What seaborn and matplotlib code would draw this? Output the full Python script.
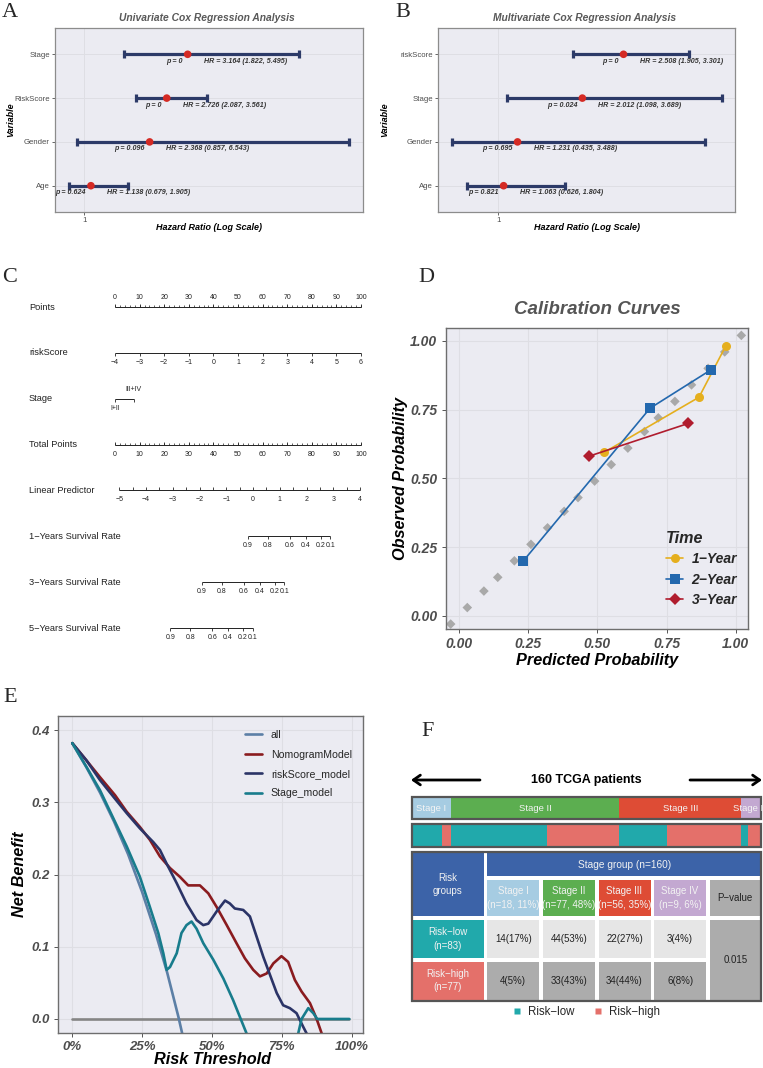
import numpy as np
import pandas as pd
import matplotlib
matplotlib.use("Agg")
import matplotlib.pyplot as plt
import seaborn as sns
from matplotlib.patches import Rectangle
from matplotlib.lines import Line2D

# ---------------- data ----------------
# A: univariate Cox
uni_vars = ["Stage", "RiskScore", "Gender", "Age"]
uni_hr = [3.164, 2.726, 2.368, 1.138]
uni_lo = [1.822, 2.087, 0.857, 0.679]
uni_hi = [5.495, 3.561, 6.543, 1.905]
uni_p = ["0", "0", "0.096", "0.624"]

# B: multivariate Cox
multi_vars = ["riskScore", "Stage", "Gender", "Age"]
multi_hr = [2.508, 2.012, 1.231, 1.063]
multi_lo = [1.905, 1.098, 0.435, 0.626]
multi_hi = [3.301, 3.689, 3.488, 1.804]
multi_p = ["0", "0.024", "0.695", "0.821"]

# C: nomogram
risk_ticks = [-4, -3, -2, -1, 0, 1, 2, 3, 4, 5, 6]
stage_levels = ["I+II", "III+IV"]
lp_ticks = [-5, -4, -3, -2, -1, 0, 1, 2, 3, 4]
lp_at_zero_points = -5.16
surv_labels = ["1−Years Survival Rate", "3−Years Survival Rate", "5−Years Survival Rate"]
surv_ticks = [0.9, 0.8, 0.6, 0.4, 0.2, 0.1]
base_cumhaz = [0.129, 0.717, 2.33]

# D: calibration
diag_x = [-0.03, 0.03, 0.09, 0.14, 0.20, 0.26, 0.32, 0.38, 0.43, 0.49,
          0.55, 0.61, 0.67, 0.72, 0.78, 0.84, 0.90, 0.96, 1.02]
diag_y = [-0.03, 0.03, 0.09, 0.14, 0.20, 0.26, 0.32, 0.38, 0.43, 0.49,
          0.55, 0.61, 0.67, 0.72, 0.78, 0.84, 0.90, 0.96, 1.02]
cal1_pred = [0.525, 0.867, 0.964]
cal1_obs = [0.595, 0.795, 0.982]
cal2_pred = [0.232, 0.690, 0.909]
cal2_obs = [0.199, 0.755, 0.894]
cal3_pred = [0.471, 0.829]
cal3_obs = [0.581, 0.700]

# E: decision curves
none_t = [0.0, 0.99]
none_nb = [0.0, 0.0]
all_t = [0.0, 0.05, 0.10, 0.15, 0.20, 0.25, 0.30, 0.34, 0.38, 0.42]
all_nb = [0.382, 0.349, 0.313, 0.273, 0.228, 0.176, 0.117, 0.064, 0.003, -0.065]
nom_t = [0.0, 0.051, 0.099, 0.153, 0.195, 0.242, 0.278, 0.314, 0.350, 0.385, 0.415,
         0.457, 0.487, 0.517, 0.553, 0.588, 0.618, 0.648, 0.672, 0.696, 0.720, 0.749,
         0.773, 0.797, 0.821, 0.851, 0.875, 0.893, 0.91]
nom_nb = [0.382, 0.358, 0.335, 0.310, 0.287, 0.266, 0.248, 0.225, 0.209, 0.197, 0.185,
          0.185, 0.174, 0.155, 0.130, 0.105, 0.084, 0.068, 0.059, 0.063, 0.077, 0.087,
          0.079, 0.054, 0.038, 0.022, 0.0, -0.020, -0.06]
rs_t = [0.0, 0.051, 0.099, 0.153, 0.195, 0.242, 0.290, 0.314, 0.338, 0.374, 0.409,
        0.445, 0.469, 0.487, 0.517, 0.547, 0.564, 0.582, 0.612, 0.636, 0.660, 0.684,
        0.708, 0.732, 0.755, 0.779, 0.803, 0.827, 0.839, 0.85]
rs_nb = [0.382, 0.358, 0.331, 0.305, 0.285, 0.264, 0.245, 0.234, 0.215, 0.188, 0.160,
         0.137, 0.130, 0.132, 0.149, 0.164, 0.160, 0.153, 0.151, 0.142, 0.114, 0.086,
         0.061, 0.036, 0.019, 0.015, 0.008, -0.011, -0.020, -0.06]
st_t = [0.0, 0.051, 0.099, 0.147, 0.195, 0.242, 0.278, 0.308, 0.326, 0.338, 0.350,
        0.374, 0.391, 0.409, 0.427, 0.445, 0.469, 0.505, 0.541, 0.576, 0.600, 0.624,
        0.65, 0.78, 0.809, 0.821, 0.845, 0.863, 0.877, 0.992]
st_nb = [0.382, 0.349, 0.317, 0.278, 0.239, 0.197, 0.155, 0.119, 0.091, 0.068, 0.072,
         0.091, 0.119, 0.130, 0.135, 0.125, 0.105, 0.082, 0.056, 0.026, 0.003, -0.020,
         -0.06, -0.06, -0.020, 0.0, 0.015, 0.008, 0.0, 0.0]

# F: stage x risk table
stage_names = ["Stage I", "Stage II", "Stage III", "Stage IV"]
risk_low_counts = [14, 44, 22, 3]
risk_high_counts = [4, 33, 34, 6]
p_value = "0.015"

# ---------------- styling ----------------
sns.set_theme(style="darkgrid")
plt.rcParams['font.family'] = ['Liberation Sans', 'DejaVu Sans']

W, H = 763, 1068
fig = plt.figure(figsize=(W / 100, H / 100), dpi=100)
fig.patch.set_facecolor('white')

PANEL_BG = '#EBEBF2'
NAVY = '#2C3A68'
RED = '#D42A24'
GRAYTXT = '#4D4D4D'


def px(x0, y0, x1, y1):
    return [x0 / W, 1 - y1 / H, (x1 - x0) / W, (y1 - y0) / H]


def ftext(x, y, s, **kw):
    fig.text(x / W, 1 - y / H, s, **kw)


def style_box(ax, color='#8C8C8C', lw=0.9):
    for s in ax.spines.values():
        s.set_visible(True)
        s.set_color(color)
        s.set_linewidth(lw)


# panel letters
for letter, x, y in [("A", 2, 17), ("B", 395, 17), ("C", 2, 281.5), ("D", 418, 281.5),
                     ("E", 3, 701.5), ("F", 421, 736.5)]:
    ftext(x, y, letter, fontsize=16, family='Liberation Serif', va='baseline', ha='left')


# ---------------- A & B forest plots ----------------
def forest(rect, title, names, hr, lo, hi, pv, ylab_x):
    ax = fig.add_axes(px(*rect))
    ax.set_facecolor(PANEL_BG)
    n = len(names)
    df = pd.DataFrame({'Variable': names, 'HR': hr, 'lo': lo, 'hi': hi, 'pos': np.arange(n)})
    ax.errorbar(df['HR'], df['pos'], xerr=[df['HR'] - df['lo'], df['hi'] - df['HR']],
                fmt='none', ecolor=NAVY, elinewidth=2.3, capsize=3, capthick=2.3, zorder=3)
    sns.scatterplot(data=df, x='HR', y='pos', color=RED, s=30, edgecolor='none',
                    ax=ax, zorder=4, legend=False)
    span = max(hi) - min(lo)
    ax.set_xlim(min(lo) - 0.05 * span, max(hi) + 0.05 * span)
    ax.set_ylim(n - 0.4, -0.6)
    ax.set_yticks(df['pos'])
    ax.set_yticklabels(names)
    ax.set_xticks([1])
    ax.set_xticklabels(['1'])
    ax.grid(True, color='#DEDEE4', lw=0.7)
    ax.set_xlabel('')
    ax.set_ylabel('')
    style_box(ax)
    ax.tick_params(axis='both', bottom=True, left=True, length=2.2, width=0.6, color=GRAYTXT,
                   labelsize=5.6, labelcolor=GRAYTXT, pad=1.5)
    for i in range(n):
        ax.annotate(f"p = {pv[i]}", xy=(hr[i], i), xytext=(-5, -7), textcoords='offset pixels',
                    ha='right', va='center', fontsize=5.1, fontweight='bold', fontstyle='italic',
                    color='#333333', annotation_clip=False)
        ax.annotate(f"HR = {hr[i]:.3f} ({lo[i]:.3f}, {hi[i]:.3f})", xy=(hr[i], i), xytext=(16, -7),
                    textcoords='offset pixels', ha='left', va='center', fontsize=5.1,
                    fontweight='bold', fontstyle='italic', color='#333333', annotation_clip=False)
    cx = (rect[0] + rect[2]) / 2
    ftext(cx - 2, 18, title, ha='center', va='center', fontsize=7.4, fontweight='bold',
          fontstyle='italic', color='#595959')
    ftext(cx, 228, "Hazard Ratio (Log Scale)", ha='center', va='center', fontsize=6.5,
          fontweight='bold', fontstyle='italic', color='black')
    ftext(ylab_x, 120, "Variable", ha='center', va='center', rotation=90, fontsize=6.5,
          fontweight='bold', fontstyle='italic', color='black')
    return ax


forest((55, 28, 363, 212), "Univariate Cox Regression Analysis", uni_vars, uni_hr, uni_lo,
       uni_hi, uni_p, 11)
forest((438, 28, 735, 212), "Multivariate Cox Regression Analysis", multi_vars, multi_hr,
       multi_lo, multi_hi, multi_p, 385)

# ---------------- C nomogram ----------------
axC = fig.add_axes(px(0, 285, 380, 650))
axC.set_axis_off()
PPX = 2.46          # pixels per point
ROWPX = 45.86       # pixels per row
axC.set_xlim(-115 / PPX, (380 - 115) / PPX)
axC.set_ylim((650 - 307) / ROWPX, (285 - 307) / ROWPX)
NC = '#222222'
coef_risk = np.log(multi_hr[0])
coef_stage = np.log(multi_hr[1])
pts_per_lp = 100 / (coef_risk * (max(risk_ticks) - min(risk_ticks)))
dy = 1 / ROWPX


def nline(row, xs, major, up, minor=None, labels=None, lab_above=False, tl=3.0, lab_off=9.5):
    xs = np.asarray(xs, float)
    axC.plot([xs.min(), xs.max()], [row, row], color=NC, lw=0.7, solid_capstyle='butt')
    sgn = -1 if up else 1
    axC.vlines(major, row, row + sgn * tl * dy, color=NC, lw=0.6)
    if minor is not None:
        axC.vlines(minor, row, row + sgn * 1.6 * dy, color=NC, lw=0.5)
    if labels is not None:
        yl = row - lab_off * dy if lab_above else row + lab_off * dy
        for x, l in zip(major, labels):
            axC.text(x, yl, l, ha='center', va='center', fontsize=5.0, color=NC)


def rowlabel(row, s):
    axC.text(-86 / PPX, row, s, ha='left', va='center', fontsize=6.7, color=NC)


def fmt_minus(v):
    s = f"{v:g}"
    return s.replace('-', '−')


pts_major = list(range(0, 101, 10))
pts_minor = list(range(0, 101, 2))
rowlabel(0, "Points")
nline(0, [0, 100], pts_major, True, pts_minor, [str(v) for v in pts_major], lab_above=True)

rowlabel(1, "riskScore")
risk_pts = [(r - min(risk_ticks)) * coef_risk * pts_per_lp for r in risk_ticks]
nline(1, risk_pts, risk_pts, False, None, [fmt_minus(r) for r in risk_ticks])

rowlabel(2, "Stage")
stage_pts = [0, coef_stage * pts_per_lp]
nline(2, stage_pts, stage_pts, False)
axC.text(stage_pts[0], 2 + 9.5 * dy, stage_levels[0], ha='center', va='center', fontsize=5.0, color=NC)
axC.text(stage_pts[1], 2 - 9.5 * dy, stage_levels[1], ha='center', va='center', fontsize=5.0, color=NC)

rowlabel(3, "Total Points")
nline(3, [0, 100], pts_major, True, pts_minor, [str(v) for v in pts_major])

rowlabel(4, "Linear Predictor")
lp_pts = [(v - lp_at_zero_points) * pts_per_lp for v in lp_ticks]
lp_half = [(v + 0.5 - lp_at_zero_points) * pts_per_lp for v in lp_ticks[:-1]]
nline(4, lp_pts, lp_pts, True, None, [fmt_minus(v) for v in lp_ticks])
axC.vlines(lp_half, 4, 4 - 3.0 * dy, color=NC, lw=0.6)

for k, (lab, h0) in enumerate(zip(surv_labels, base_cumhaz)):
    row = 5 + k
    rowlabel(row, lab)
    sp = [(np.log(-np.log(s)) - np.log(h0) - lp_at_zero_points) * pts_per_lp for s in surv_ticks]
    nline(row, sp, sp, False, None, [f"{s:g}" for s in surv_ticks])

# ---------------- D calibration ----------------
axD = fig.add_axes(px(445.7, 327.7, 747.7, 629))
axD.set_facecolor(PANEL_BG)
cal_df = pd.DataFrame({
    'pred': cal1_pred + cal2_pred + cal3_pred,
    'obs': cal1_obs + cal2_obs + cal3_obs,
    'Time': ['1−Year'] * len(cal1_pred) + ['2−Year'] * len(cal2_pred) + ['3−Year'] * len(cal3_pred),
})
cal_colors = {'1−Year': '#E5AF1E', '2−Year': '#2368AE', '3−Year': '#B01C2E'}
sns.scatterplot(x=diag_x, y=diag_y, marker='D', color='#A9A9A9', s=24, edgecolor='none',
                ax=axD, zorder=2)
sns.lineplot(data=cal_df, x='pred', y='obs', hue='Time', style='Time',
             markers={'1−Year': 'o', '2−Year': 's', '3−Year': 'D'}, dashes=False,
             palette=cal_colors, sort=False, estimator=None, lw=1.2, markersize=6.5,
             markeredgewidth=0, ax=axD, zorder=3, legend=False)
axD.set_xlim(-0.048, 1.043)
axD.set_ylim(-0.048, 1.048)
ticks4 = [0, 0.25, 0.5, 0.75, 1.0]
axD.set_xticks(ticks4)
axD.set_yticks(ticks4)
axD.set_xticklabels([f"{t:.2f}" for t in ticks4])
axD.set_yticklabels([f"{t:.2f}" for t in ticks4])
axD.grid(True, color='#DEDEE4', lw=0.8)
style_box(axD, '#6E6E6E', 1.0)
axD.tick_params(axis='both', bottom=True, left=True, length=3, width=0.7, color='#555555',
                labelsize=10, labelcolor=GRAYTXT, pad=3)
for t in axD.get_xticklabels() + axD.get_yticklabels():
    t.set_fontweight('bold')
    t.set_fontstyle('italic')
axD.set_xlabel('')
axD.set_ylabel('')
ftext(597, 310, "Calibration Curves", ha='center', va='center', fontsize=13.5, fontweight='bold',
      fontstyle='italic', color='#555555')
ftext(597, 661, "Predicted Probability", ha='center', va='center', fontsize=11.7,
      fontweight='bold', fontstyle='italic', color='black')
ftext(400, 478, "Observed Probability", ha='center', va='center', rotation=90, fontsize=11.7,
      fontweight='bold', fontstyle='italic', color='black')
handlesD = [Line2D([0], [0], color=cal_colors[k], marker=m, lw=1.2, ms=6.5, mew=0)
            for k, m in zip(['1−Year', '2−Year', '3−Year'], ['o', 's', 'D'])]
legD = axD.legend(handlesD, ['1−Year', '2−Year', '3−Year'], title='Time', loc='upper left',
                  bbox_to_anchor=((666 - 445.7) / 302, (629 - 531) / 301.3), frameon=False,
                  borderpad=0, borderaxespad=0, handlelength=1.25, handletextpad=0.6,
                  labelspacing=0.45, prop={'size': 10, 'weight': 'bold', 'style': 'italic'},
                  title_fontproperties={'size': 11.6, 'weight': 'bold', 'style': 'italic'})
legD._legend_box.align = 'left'

# ---------------- E decision curves ----------------
axE = fig.add_axes(px(58.3, 715.7, 363.3, 1032.7))
axE.set_facecolor(PANEL_BG)
models = ['all', 'NomogramModel', 'riskScore_model', 'Stage_model']
dca_colors = {'none': '#858585', 'all': '#5C7FA6', 'NomogramModel': '#8A1B1F',
              'riskScore_model': '#2B3467', 'Stage_model': '#187C8C'}
dca_df = pd.concat([
    pd.DataFrame({'threshold': none_t, 'net_benefit': none_nb, 'model': 'none'}),
    pd.DataFrame({'threshold': all_t, 'net_benefit': all_nb, 'model': 'all'}),
    pd.DataFrame({'threshold': nom_t, 'net_benefit': nom_nb, 'model': 'NomogramModel'}),
    pd.DataFrame({'threshold': rs_t, 'net_benefit': rs_nb, 'model': 'riskScore_model'}),
    pd.DataFrame({'threshold': st_t, 'net_benefit': st_nb, 'model': 'Stage_model'}),
], ignore_index=True)
sns.lineplot(data=dca_df, x='threshold', y='net_benefit', hue='model',
             hue_order=['none'] + models, palette=dca_colors, sort=False, estimator=None,
             lw=1.9, ax=axE, legend=False)
axE.set_xlim(-0.05, 1.042)
axE.set_ylim(-0.019, 0.42)
axE.set_xticks(ticks4)
axE.set_xticklabels([f"{int(t * 100)}%" for t in ticks4])
yt = [0, 0.1, 0.2, 0.3, 0.4]
axE.set_yticks(yt)
axE.set_yticklabels([f"{t:.1f}" for t in yt])
axE.grid(True, color='#DEDEE4', lw=0.8)
style_box(axE, '#6E6E6E', 1.0)
axE.tick_params(axis='both', bottom=True, left=True, length=3, width=0.7, color='#555555',
                labelsize=9.5, labelcolor=GRAYTXT, pad=3)
for t in axE.get_xticklabels() + axE.get_yticklabels():
    t.set_fontweight('bold')
    t.set_fontstyle('italic')
axE.set_xlabel('')
axE.set_ylabel('')
ftext(212, 1059, "Risk Threshold", ha='center', va='center', fontsize=11.7, fontweight='bold',
      fontstyle='italic', color='black')
ftext(20, 874, "Net Benefit", ha='center', va='center', rotation=90, fontsize=11.7,
      fontweight='bold', fontstyle='italic', color='black')
handlesE = [Line2D([0], [0], color=dca_colors[m], lw=1.9) for m in models]
axE.legend(handlesE, models, loc='upper left',
           bbox_to_anchor=((245 - 58.3) / 305, (1032.7 - 730) / 317), frameon=False,
           borderpad=0, borderaxespad=0, handlelength=1.6, handletextpad=0.85,
           labelspacing=0.9, prop={'size': 7.6})

# ---------------- F stage / risk bars and table ----------------
STAGE_COL = ['#A6CCE2', '#5CAE50', '#DE4C35', '#C3A8D1']
LOW_COL = '#21A9AB'
HIGH_COL = '#E4706A'
BLUE = '#3C63A8'
LGRAY = '#E6E6E6'
DGRAY = '#ACACAC'
BORDER = '#555555'

stage_n = [a + b for a, b in zip(risk_low_counts, risk_high_counts)]
total = sum(stage_n)

ftext(586.7, 780, f"{total} TCGA patients", ha='center', va='center', fontsize=9,
      fontweight='bold', color='black')
for x_tail, x_head in [(480, 411), (690, 762)]:
    fig.add_artist(matplotlib.patches.FancyArrowPatch(
        (x_tail / W, 1 - 780 / H), (x_head / W, 1 - 780 / H), transform=fig.transFigure,
        arrowstyle='->,head_length=5,head_width=3.5', lw=2.0, color='black',
        shrinkA=0, shrinkB=0, mutation_scale=1))

axBar = fig.add_axes(px(411.7, 794.7, 761, 849.1))
axBar.set_axis_off()
axBar.set_xlim(0, total)
axBar.set_ylim(1.5, -0.5)
BH = 0.816
left = np.concatenate([[0], np.cumsum(stage_n)[:-1]])
axBar.barh([0] * 4, stage_n, left=left, height=BH, color=STAGE_COL, edgecolor='none')
border0 = axBar.barh([0], [total], left=[0], height=BH, fill=False, edgecolor=BORDER, lw=1.6)[0]
border0.set_clip_on(False)
for name, l, n in zip(stage_names, left, stage_n):
    t = axBar.text(l + n / 2, 0, name, ha='center', va='center', fontsize=6.8, color='#F4F4F4')
    t.set_clip_path(border0)
risk_seq_counts = []
risk_seq_cols = []
for lo_c, hi_c in zip(risk_low_counts, risk_high_counts):
    risk_seq_counts += [lo_c, hi_c]
    risk_seq_cols += [LOW_COL, HIGH_COL]
left_r = np.concatenate([[0], np.cumsum(risk_seq_counts)[:-1]])
axBar.barh([1] * len(risk_seq_counts), risk_seq_counts, left=left_r, height=BH,
           color=risk_seq_cols, edgecolor='none')
border1 = axBar.barh([1], [total], left=[0], height=BH, fill=False, edgecolor=BORDER, lw=1.6)[0]
border1.set_clip_on(False)

# table (layout in pixel coordinates)
axT = fig.add_axes([0, 0, 1, 1], facecolor='none')
axT.set_axis_off()
axT.set_xlim(0, W)
axT.set_ylim(H, 0)
TX0, TX1, TY0, TY1 = 411.7, 761, 852.3, 1000.7


def cell(x0, y0, x1, y1, color, text, tcolor, fs=7.0):
    axT.add_patch(Rectangle((x0, y0), x1 - x0, y1 - y0, facecolor=color, edgecolor='none'))
    axT.text((x0 + x1) / 2, (y0 + y1) / 2, text, ha='center', va='center', fontsize=fs,
             color=tcolor, linespacing=1.45)


def pct(a, b):
    return int(a / b * 100 + 0.5)


col_x0 = [487.3, 542.9, 598.5, 654.1, 709.7]
col_w = 52.0
rows_y = [(853.3, 876.0), (880.0, 916.0), (920.0, 958.3), (961.7, 999.5)]
cell(TX0, 853.3, 484.0, 916.0, BLUE, "Risk\ngroups", '#F2F2F2')
cell(487.3, 853.3, TX1, 876.0, BLUE, f"Stage group (n={total})", '#F2F2F2', fs=7.3)
for j, (name, n) in enumerate(zip(stage_names, stage_n)):
    cell(col_x0[j], rows_y[1][0], col_x0[j] + col_w, rows_y[1][1], STAGE_COL[j],
         f"{name}\n(n={n}, {pct(n, total)}%)", '#F2F2F2')
cell(col_x0[4], rows_y[1][0], TX1, rows_y[1][1], DGRAY, "P−value", '#222222')
n_low = sum(risk_low_counts)
n_high = sum(risk_high_counts)
cell(TX0, rows_y[2][0], 484.0, rows_y[2][1], LOW_COL, f"Risk−low\n(n={n_low})", '#F2F2F2')
cell(TX0, rows_y[3][0], 484.0, rows_y[3][1], HIGH_COL, f"Risk−high\n(n={n_high})", '#F2F2F2')
for j in range(4):
    cell(col_x0[j], rows_y[2][0], col_x0[j] + col_w, rows_y[2][1], LGRAY,
         f"{risk_low_counts[j]}({pct(risk_low_counts[j], n_low)}%)", '#222222')
    cell(col_x0[j], rows_y[3][0], col_x0[j] + col_w, rows_y[3][1], DGRAY,
         f"{risk_high_counts[j]}({pct(risk_high_counts[j], n_high)}%)", '#222222')
cell(col_x0[4], rows_y[2][0], TX1, rows_y[3][1], DGRAY, p_value, '#222222')
axT.add_patch(Rectangle((TX0, TY0), TX1 - TX0, TY1 - TY0, facecolor='none',
                        edgecolor=BORDER, lw=1.6))

handlesF = [Line2D([0], [0], marker='s', color='none', markerfacecolor=c, markeredgecolor='none',
                   ms=4.5) for c in (LOW_COL, HIGH_COL)]
fig.legend(handlesF, ['Risk−low', 'Risk−high'], loc='center',
           bbox_to_anchor=(586 / W, 1 - 1012 / H), ncol=2, frameon=False, handlelength=0.8,
           handletextpad=0.6, columnspacing=1.6, prop={'size': 8.3})

fig.savefig("out.png", dpi=100)
